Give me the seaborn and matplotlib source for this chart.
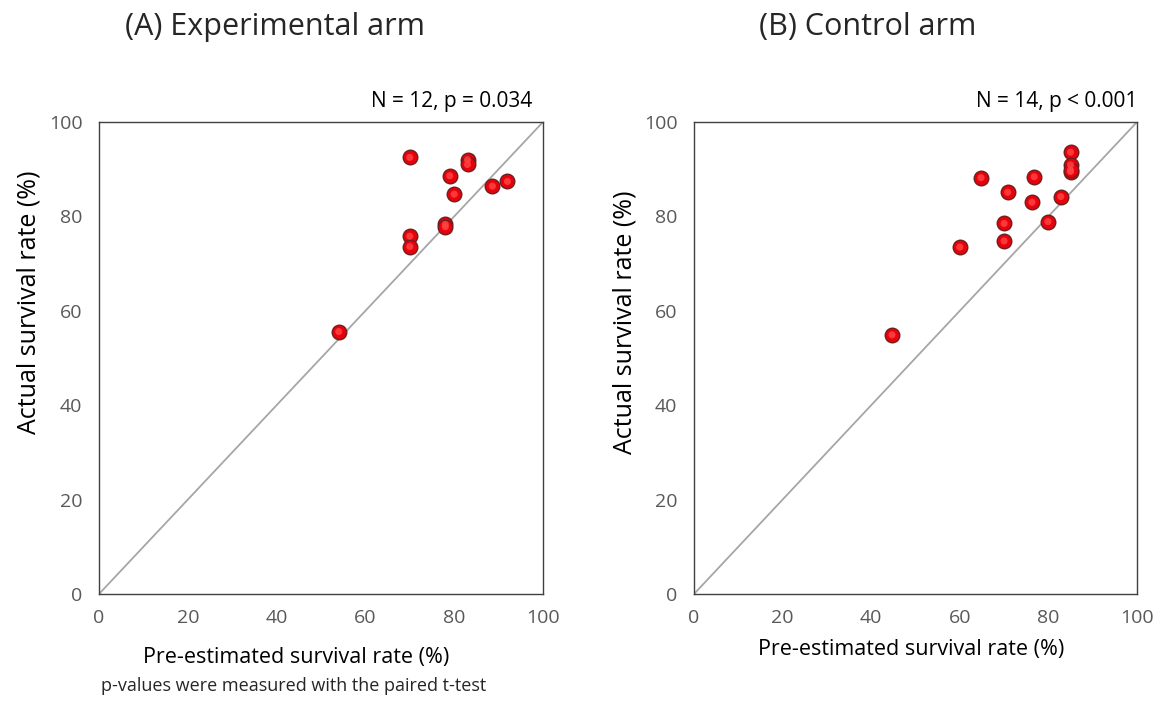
import matplotlib
matplotlib.use("Agg")
import matplotlib.pyplot as plt
import seaborn as sns
import pandas as pd

# Data
exp_pre = [70, 83, 83, 79, 80, 88.6, 92, 78, 78, 70, 70, 54]
exp_act = [92.5, 92.0, 91.0, 88.6, 84.7, 86.4, 87.4, 78.3, 77.8, 75.8, 73.6, 55.6]
ctl_pre = [85, 85, 85, 64.8, 76.8, 70.8, 76.3, 82.8, 70, 79.9, 70, 60, 44.7, 85]
ctl_act = [93.6, 90.9, 89.5, 88.2, 88.4, 85.1, 83.0, 84.2, 78.5, 78.9, 74.8, 73.5, 54.9, 89.8]
titles = ["(A) Experimental arm", "(B) Control arm"]
stats = ["N = 12, p = 0.034", "N = 14, p < 0.001"]
ticks = [0, 20, 40, 60, 80, 100]
xlabel = "Pre-estimated survival rate (%)"
ylabel = "Actual survival rate (%)"
footnote = "p-values were measured with the paired t-test"

sns.set_theme(style="white")
plt.rcParams['font.family'] = ['Open Sans', 'DejaVu Sans']

fig = plt.figure(figsize=(11.64, 7.06), dpi=100)
W, H = 1164, 706
axA = fig.add_axes([99 / W, (H - 594) / H, 444 / W, 472 / H])
axB = fig.add_axes([694 / W, (H - 594) / H, 443 / W, 472 / H])

datasets = [
    pd.DataFrame({"pre": exp_pre, "act": exp_act}),
    pd.DataFrame({"pre": ctl_pre, "act": ctl_act}),
]
stat_right = [532, 1137]
# label centre positions in axes coordinates
xlab_pos = [(-0.056, -0.135), (0.490, -0.118)]
ylab_pos = [(-0.158, 0.619), (-0.155, 0.576)]

for ax, df, st, sr, xp, yp in zip([axA, axB], datasets, stats, stat_right,
                                  xlab_pos, ylab_pos):
    ax.plot([0, 100], [0, 100], color="#a6a6a6", lw=1.3, zorder=1)
    sns.scatterplot(data=df, x="pre", y="act", ax=ax, s=110, color="#e8000b",
                    edgecolor="#6e1f1f", linewidth=1.0, zorder=3, legend=False)
    # highlight for a glossy look
    sns.scatterplot(data=df, x="pre", y="act", ax=ax, s=26, color="#ff4545",
                    edgecolor="none", zorder=4, legend=False, alpha=0.8)
    ax.set_xlim(0, 100)
    ax.set_ylim(0, 100)
    ax.set_xticks(ticks)
    ax.set_yticks(ticks)
    ax.tick_params(axis="both", colors="#595959", labelsize=14, length=0)
    ax.tick_params(axis="x", pad=11)
    ax.tick_params(axis="y", pad=12)
    for lab in ax.get_xticklabels() + ax.get_yticklabels():
        lab.set_color("#595959")
    for sp in ax.spines.values():
        sp.set_color("#404040")
        sp.set_linewidth(1.0)
    ax.set_xlabel(xlabel, fontsize=15.5, color="black", va="center", ha="center")
    ax.set_ylabel(ylabel, fontsize=18, color="black", va="center", ha="center")
    ax.xaxis.set_label_coords(0.5 + xp[0] if xp[0] < 0 else xp[0], xp[1])
    ax.yaxis.set_label_coords(*yp)
    fig.text(sr / W, 1 - 102 / H, st, ha="right", va="center",
             fontsize=15, color="black")

fig.text(275 / W, 1 - 27 / H, titles[0], ha="center", va="center", fontsize=22)
fig.text(868 / W, 1 - 27 / H, titles[1], ha="center", va="center", fontsize=22)
fig.text(101 / W, 1 - 686 / H, footnote, ha="left", va="center", fontsize=13)

fig.savefig("out.png", dpi=100, facecolor="white")
